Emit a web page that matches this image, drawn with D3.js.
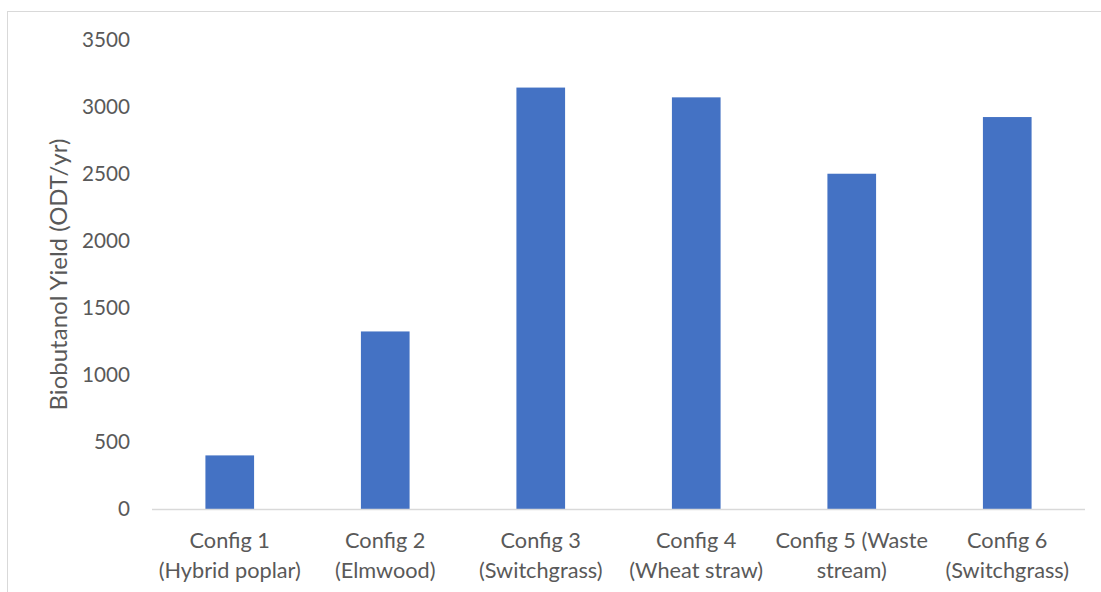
<!DOCTYPE html>
<html><head><meta charset="utf-8">
<script src="https://cdn.jsdelivr.net/npm/d3@7"></script>
<style>body{margin:0;background:#fff}svg{display:block}</style>
</head><body>
<svg id="chart" width="1101" height="592"></svg>
<script>
const categories = ["Config 1", "Config 2", "Config 3", "Config 4", "Config 5", "Config 6"];
const categoryLabels = [
  ["Config 1", "(Hybrid poplar)"],
  ["Config 2", "(Elmwood)"],
  ["Config 3", "(Switchgrass)"],
  ["Config 4", "(Wheat straw)"],
  ["Config 5 (Waste", "stream)"],
  ["Config 6", "(Switchgrass)"]
];
const values = [400, 1325, 3145, 3072, 2502, 2925];
const yTicks = [0, 500, 1000, 1500, 2000, 2500, 3000, 3500];
const yTitle = "Biobutanol Yield (ODT/yr)";

(function () {
const svg = d3.select("#chart");
const font = "Lato, 'Open Sans', sans-serif";
const textColor = "#595959";

// fit a font size so a sample string gets a target width
function fitSize(sample, target, base) {
  const t = svg.append("text").attr("font-family", font).attr("font-size", base).text(sample);
  const w = t.node().getComputedTextLength();
  t.remove();
  return w > 0 ? base * target / w : base;
}
const labelSize = fitSize("Config 5 (Waste", 152.6, 21);
const titleSize = fitSize(yTitle, 272, 21);
const tickSize = fitSize("3500", 48, 21);

svg.append("rect").attr("x", 7.5).attr("y", 11.5).attr("width", 1110).attr("height", 600)
  .attr("fill", "none").attr("stroke", "#d9d9d9").attr("stroke-width", 1);

const mLeft = 152, mRight = 1085, mTop = 40, mBottom = 509;
const x = d3.scaleBand().domain(categories).range([mLeft, mRight]).paddingInner(0.687).paddingOuter(0.3435);
const y = d3.scaleLinear().domain([0, 3500]).range([mBottom, mTop]);

svg.append("g").selectAll("rect").data(values).join("rect")
  .attr("x", (d, i) => x(categories[i]))
  .attr("width", x.bandwidth())
  .attr("y", d => y(d))
  .attr("height", d => y(0) - y(d))
  .attr("fill", "#4472C4");

const yAxis = svg.append("g").attr("transform", `translate(${mLeft},0)`)
  .call(d3.axisLeft(y).tickValues(yTicks).tickFormat(d3.format("d")).tickSize(0).tickPadding(22));
yAxis.select(".domain").remove();
yAxis.selectAll("text").attr("font-family", font).attr("font-size", tickSize).attr("fill", textColor);

svg.append("line").attr("x1", mLeft).attr("x2", mRight).attr("y1", y(0) + 0.5).attr("y2", y(0) + 0.5)
  .attr("stroke", "#d9d9d9").attr("stroke-width", 1.5);

const xl = svg.append("g");
categoryLabels.forEach((lines, i) => {
  const cx = x(categories[i]) + x.bandwidth() / 2;
  lines.forEach((ln, j) => {
    xl.append("text").attr("x", cx).attr("y", 540 + j * 30).attr("dy", "0.35em")
      .attr("text-anchor", "middle").attr("font-family", font).attr("font-size", labelSize)
      .attr("fill", textColor).text(ln);
  });
});

svg.append("text").attr("transform", `translate(59,${(mTop + mBottom) / 2}) rotate(-90)`)
  .attr("text-anchor", "middle").attr("dy", "0.35em")
  .attr("font-family", font).attr("font-size", titleSize).attr("fill", textColor).text(yTitle);
})();
</script>
</body></html>
